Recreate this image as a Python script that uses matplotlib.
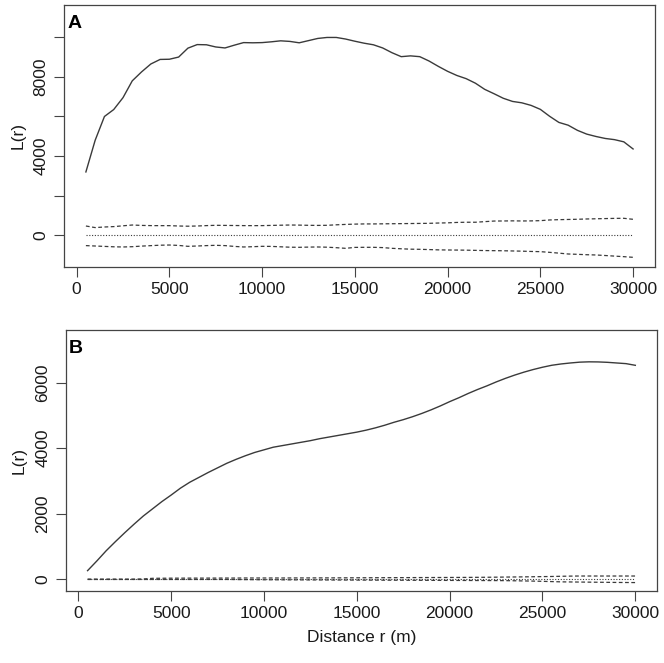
import numpy as np
import matplotlib
matplotlib.use("Agg")
import matplotlib.pyplot as plt

plt.rcParams['font.family'] = ['Liberation Sans', 'DejaVu Sans']

# distance r (m)
r = [500, 1000, 1500, 2000, 2500, 3000, 3500, 4000, 4500, 5000,
     5500, 6000, 6500, 7000, 7500, 8000, 8500, 9000, 9500, 10000,
     10500, 11000, 11500, 12000, 12500, 13000, 13500, 14000, 14500, 15000,
     15500, 16000, 16500, 17000, 17500, 18000, 18500, 19000, 19500, 20000,
     20500, 21000, 21500, 22000, 22500, 23000, 23500, 24000, 24500, 25000,
     25500, 26000, 26500, 27000, 27500, 28000, 28500, 29000, 29500, 30000]

# panel A: observed L(r) and simulation envelopes
obs_a = [3200, 4800, 6000, 6350, 6950, 7800, 8250, 8650, 8880, 8890,
         9000, 9450, 9630, 9620, 9510, 9460, 9600, 9730, 9720, 9730,
         9770, 9820, 9790, 9720, 9830, 9940, 9990, 9990, 9910, 9800,
         9700, 9620, 9460, 9220, 9020, 9060, 9020, 8800, 8530, 8280,
         8070, 7910, 7680, 7370, 7150, 6920, 6760, 6690, 6560, 6360,
         6010, 5700, 5560, 5300, 5110, 4990, 4890, 4830, 4720, 4360]
hi_a = [470, 390, 420, 440, 480, 520, 500, 490, 488, 488,
        470, 460, 470, 490, 505, 500, 495, 490, 488, 490,
        500, 510, 520, 515, 505, 500, 505, 530, 550, 565,
        575, 575, 580, 585, 590, 595, 600, 605, 620, 630,
        650, 660, 660, 690, 720, 724, 730, 724, 728, 740,
        775, 790, 800, 810, 825, 835, 845, 855, 859, 808]
lo_a = [-520, -540, -560, -580, -589, -575, -545, -522, -500, -490,
        -510, -556, -540, -520, -505, -520, -560, -589, -575, -556,
        -560, -580, -600, -606, -595, -589, -600, -625, -657, -610,
        -606, -606, -620, -657, -680, -700, -707, -720, -735, -741,
        -745, -750, -760, -770, -775, -780, -790, -800, -815, -825,
        -860, -900, -943, -960, -980, -993, -1020, -1050, -1078, -1111]
theo_a = [0] * len(r)

# panel B
obs_b = [264, 560, 870, 1150, 1420, 1680, 1930, 2150, 2370, 2570,
         2780, 2960, 3110, 3260, 3400, 3540, 3660, 3770, 3870, 3950,
         4030, 4080, 4130, 4180, 4230, 4290, 4340, 4390, 4440, 4490,
         4550, 4620, 4700, 4790, 4870, 4960, 5060, 5170, 5290, 5420,
         5540, 5670, 5790, 5900, 6020, 6130, 6230, 6320, 6400, 6470,
         6530, 6570, 6600, 6625, 6635, 6632, 6620, 6600, 6580, 6529]
hi_b = [5, 5, 5, 5, 5, 5, 10, 30, 32, 34,
        35, 36, 36, 37, 37, 38, 38, 40, 40, 40,
        40, 40, 41, 42, 42, 43, 43, 44, 45, 46,
        47, 48, 49, 50, 51, 52, 53, 54, 55, 56,
        57, 58, 60, 62, 65, 68, 71, 74, 78, 82,
        86, 92, 97, 100, 100, 100, 100, 100, 100, 100]
lo_b = [-5, -5, -5, -5, -5, -5, -5, -5, -5, -5,
        -5, -5, -5, -5, -5, -5, -8, -10, -12, -14,
        -15, -16, -17, -18, -19, -20, -21, -22, -23, -24,
        -25, -26, -27, -28, -29, -30, -31, -32, -33, -34,
        -35, -36, -37, -38, -39, -41, -45, -50, -55, -62,
        -70, -78, -81, -84, -87, -90, -93, -96, -98, -100]
theo_b = [0] * len(r)

panels = [
    ("A", obs_a, hi_a, lo_a, theo_a, (-1586, 11630),
     [0, 2000, 4000, 6000, 8000, 10000], ["0", "", "4000", "", "8000", ""],
     [0.0964, 0.5977, 0.89, 0.3948]),
    ("B", obs_b, hi_b, lo_b, theo_b, (-357, 7607),
     [0, 2000, 4000, 6000], ["0", "2000", "4000", "6000"],
     [0.0989, 0.1086, 0.8909, 0.3937]),
]

line_col = '#3a3a3a'
fs = 12.5

fig = plt.figure(figsize=(6.64, 6.63), dpi=100)
for name, obs, hi, lo, theo, ylim, yt, ytl, pos in panels:
    ax = fig.add_axes(pos)
    ax.plot(r, obs, color=line_col, lw=1.0)
    ax.plot(r, hi, color=line_col, lw=0.9, ls=(0, (3, 2)))
    ax.plot(r, lo, color=line_col, lw=0.9, ls=(0, (3, 2)))
    ax.plot(r, theo, color=line_col, lw=0.8, ls=(0, (1, 1.5)))
    ax.set_xlim(-680, 31180)
    ax.set_ylim(*ylim)
    ax.set_xticks([0, 5000, 10000, 15000, 20000, 25000, 30000])
    ax.set_yticks(yt)
    ax.set_yticklabels(ytl, rotation=90, va='center')
    ax.tick_params(direction='out', length=7, width=0.8, color='#444444',
                   labelsize=fs, labelcolor='#1a1a1a', pad=4)
    for s in ax.spines.values():
        s.set_color('#444444')
        s.set_linewidth(0.9)
    ax.set_ylabel("L(r)", fontsize=fs, color='#1a1a1a', labelpad=6)
    ax.text(0.006, 0.96, name, transform=ax.transAxes, fontsize=14,
            fontweight='bold', va='top', ha='left')
    if name == "B":
        ax.set_xlabel("Distance r (m)", fontsize=fs, color='#1a1a1a', labelpad=6)

fig.savefig("out.png", dpi=100)
